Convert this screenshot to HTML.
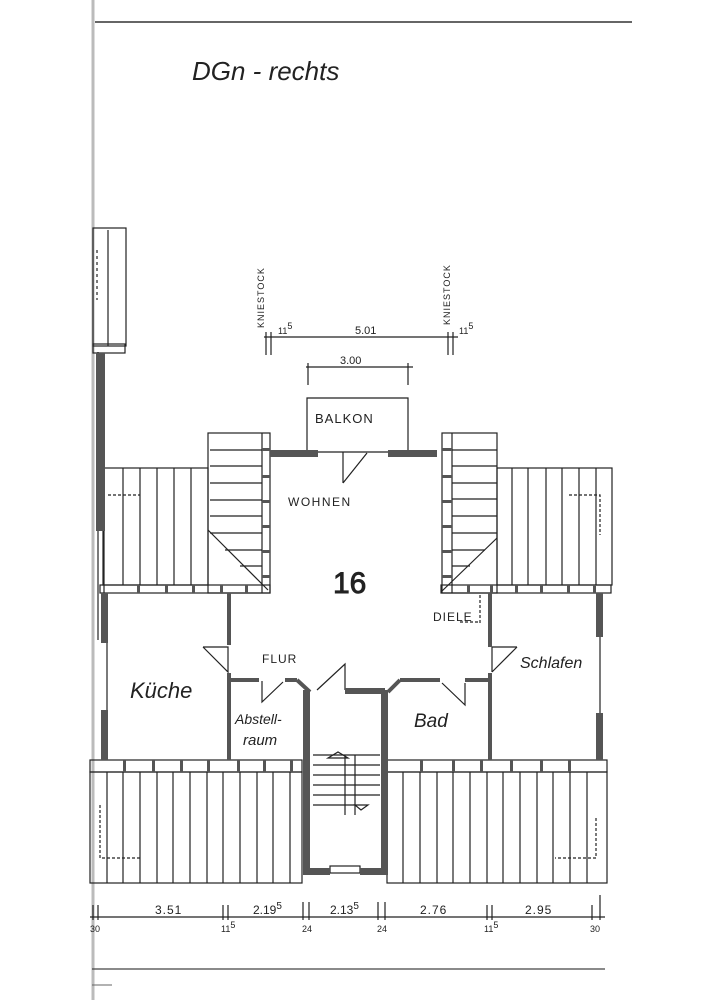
<!DOCTYPE html>
<html><head><meta charset="utf-8"><style>
html,body{margin:0;padding:0;background:#fff;}
svg{display:block;}
text{font-family:"Liberation Sans",sans-serif;fill:#222;}
</style></head><body>
<svg width="707" height="1000" viewBox="0 0 707 1000" xmlns="http://www.w3.org/2000/svg">
<rect width="707" height="1000" fill="#fff"/>
<line x1="93" y1="0" x2="93" y2="1000" stroke="#bbb" stroke-width="3"/>
<line x1="95" y1="22" x2="632" y2="22" stroke="#333" stroke-width="1.5"/>
<line x1="92" y1="969" x2="605" y2="969" stroke="#444" stroke-width="1.2"/>
<line x1="92" y1="985" x2="112" y2="985" stroke="#666" stroke-width="1"/>
<text x="192" y="80" font-family="Liberation Serif,serif" font-style="italic" font-size="26" fill="#333">DGn - rechts</text>

<g stroke="#222" stroke-width="1.2" fill="none">
<rect x="93" y="228" width="33" height="118"/>
<line x1="108" y1="230" x2="108" y2="346"/>
<rect x="93" y="344" width="32" height="9"/>
<line x1="97" y1="250" x2="97" y2="300" stroke-dasharray="3,3"/>
<line x1="98" y1="352" x2="98" y2="640"/>
<line x1="104" y1="530" x2="104" y2="640"/>

<line x1="264" y1="337" x2="458" y2="337"/>
<line x1="266" y1="332" x2="266" y2="355"/><line x1="271" y1="332" x2="271" y2="355"/>
<line x1="448" y1="332" x2="448" y2="355"/><line x1="453" y1="332" x2="453" y2="355"/>
<line x1="306" y1="367" x2="413" y2="367"/>
<line x1="308" y1="363" x2="308" y2="385"/><line x1="408" y1="363" x2="408" y2="385"/>

<polyline points="307,450 307,398 408,398 408,450"/>
<line x1="318" y1="452" x2="388" y2="452"/>
<line x1="343" y1="452" x2="343" y2="483"/><line x1="343" y1="483" x2="367" y2="453"/>

<rect x="208" y="433" width="62" height="160"/>
<line x1="262" y1="433" x2="262" y2="593"/>
<line x1="210" y1="450" x2="262" y2="450"/><line x1="210" y1="466" x2="262" y2="466"/>
<line x1="210" y1="483" x2="262" y2="483"/><line x1="210" y1="500" x2="262" y2="500"/>
<line x1="210" y1="516" x2="262" y2="516"/><line x1="210" y1="533" x2="262" y2="533"/>
<line x1="225" y1="550" x2="262" y2="550"/><line x1="240" y1="566" x2="262" y2="566"/>
<line x1="208" y1="530" x2="268" y2="590"/>
<rect x="442" y="433" width="55" height="160"/>
<line x1="452" y1="433" x2="452" y2="593"/>
<line x1="452" y1="450" x2="497" y2="450"/><line x1="452" y1="466" x2="497" y2="466"/>
<line x1="452" y1="483" x2="497" y2="483"/><line x1="452" y1="499" x2="497" y2="499"/>
<line x1="452" y1="516" x2="497" y2="516"/><line x1="452" y1="533" x2="497" y2="533"/>
<line x1="452" y1="550" x2="485" y2="550"/><line x1="452" y1="566" x2="470" y2="566"/>
<line x1="497" y1="538" x2="441" y2="592"/>

<rect x="103" y="468" width="105" height="117"/>
<line x1="123" y1="468" x2="123" y2="585"/><line x1="140" y1="468" x2="140" y2="585"/>
<line x1="157" y1="468" x2="157" y2="585"/><line x1="174" y1="468" x2="174" y2="585"/>
<line x1="191" y1="468" x2="191" y2="585"/>
<polyline points="108,495 140,495" stroke-dasharray="3,2"/>
<rect x="497" y="468" width="115" height="117"/>
<line x1="512" y1="468" x2="512" y2="585"/><line x1="528" y1="468" x2="528" y2="585"/>
<line x1="546" y1="468" x2="546" y2="585"/><line x1="562" y1="468" x2="562" y2="585"/>
<line x1="579" y1="468" x2="579" y2="585"/><line x1="596" y1="468" x2="596" y2="585"/>
<polyline points="569,495 600,495 600,535" stroke-dasharray="3,2"/>

<rect x="100" y="585" width="170" height="8"/>
<rect x="441" y="585" width="170" height="8"/>

<line x1="107" y1="593" x2="107" y2="760"/>
<line x1="600" y1="593" x2="600" y2="760"/>
<polyline points="203,647 228,647 228,672 203,647"/>
<polyline points="517,647 492,647 492,672"/><line x1="492" y1="672" x2="517" y2="647"/>
<polyline points="262,681 262,702 283,682"/>
<polyline points="317,690 345,664 345,690"/>
<polyline points="465,683 465,705 442,683"/>
<line x1="480" y1="595" x2="480" y2="625" stroke-dasharray="3,2"/>
<line x1="460" y1="622" x2="480" y2="622" stroke-dasharray="3,2"/>

<rect x="90" y="760" width="212" height="12"/>
<rect x="387" y="760" width="220" height="12"/>
<rect x="90" y="772" width="212" height="111"/>
<rect x="387" y="772" width="220" height="111"/>
<line x1="107" y1="772" x2="107" y2="883"/><line x1="123" y1="772" x2="123" y2="883"/>
<line x1="140" y1="772" x2="140" y2="883"/><line x1="157" y1="772" x2="157" y2="883"/>
<line x1="173" y1="772" x2="173" y2="883"/><line x1="190" y1="772" x2="190" y2="883"/>
<line x1="207" y1="772" x2="207" y2="883"/><line x1="223" y1="772" x2="223" y2="883"/>
<line x1="240" y1="772" x2="240" y2="883"/><line x1="257" y1="772" x2="257" y2="883"/>
<line x1="273" y1="772" x2="273" y2="883"/><line x1="290" y1="772" x2="290" y2="883"/>
<line x1="403" y1="772" x2="403" y2="883"/><line x1="420" y1="772" x2="420" y2="883"/>
<line x1="437" y1="772" x2="437" y2="883"/><line x1="453" y1="772" x2="453" y2="883"/>
<line x1="470" y1="772" x2="470" y2="883"/><line x1="487" y1="772" x2="487" y2="883"/>
<line x1="503" y1="772" x2="503" y2="883"/><line x1="520" y1="772" x2="520" y2="883"/>
<line x1="537" y1="772" x2="537" y2="883"/><line x1="553" y1="772" x2="553" y2="883"/>
<line x1="570" y1="772" x2="570" y2="883"/><line x1="587" y1="772" x2="587" y2="883"/>
<polyline points="100,805 100,858 140,858" stroke-dasharray="3,2"/>
<polyline points="596,818 596,858 555,858" stroke-dasharray="3,2"/>

<line x1="313" y1="755" x2="380" y2="755"/>
<line x1="313" y1="765" x2="380" y2="765"/><line x1="313" y1="775" x2="380" y2="775"/>
<line x1="313" y1="785" x2="380" y2="785"/><line x1="313" y1="795" x2="380" y2="795"/>
<line x1="313" y1="805" x2="355" y2="805"/>
<line x1="345" y1="755" x2="345" y2="815"/><line x1="355" y1="755" x2="355" y2="815"/>
<polygon points="328,758 338,752 348,758"/>
<polygon points="355,805 368,805 361,810"/>
<rect x="330" y="866" width="30" height="7"/>

<line x1="90" y1="917" x2="605" y2="917"/>
<line x1="93" y1="905" x2="93" y2="920"/><line x1="98" y1="905" x2="98" y2="920"/>
<line x1="223" y1="905" x2="223" y2="920"/><line x1="228" y1="905" x2="228" y2="920"/>
<line x1="303" y1="902" x2="303" y2="920"/><line x1="309" y1="902" x2="309" y2="920"/>
<line x1="378" y1="902" x2="378" y2="920"/><line x1="385" y1="902" x2="385" y2="920"/>
<line x1="487" y1="905" x2="487" y2="920"/><line x1="492" y1="905" x2="492" y2="920"/>
<line x1="592" y1="905" x2="592" y2="920"/><line x1="600" y1="895" x2="600" y2="920"/>
</g>

<!-- blocks in bands and dormer wall columns -->
<g fill="#555">
<rect x="137" y="585" width="3" height="8"/><rect x="165" y="585" width="3" height="8"/>
<rect x="192" y="585" width="3" height="8"/><rect x="220" y="585" width="3" height="8"/>
<rect x="245" y="585" width="3" height="8"/>
<rect x="467" y="585" width="3" height="8"/><rect x="490" y="585" width="3" height="8"/>
<rect x="515" y="585" width="3" height="8"/><rect x="540" y="585" width="3" height="8"/>
<rect x="567" y="585" width="3" height="8"/><rect x="593" y="585" width="3" height="8"/>
<rect x="123" y="760" width="3" height="12"/><rect x="152" y="760" width="3" height="12"/>
<rect x="180" y="760" width="3" height="12"/><rect x="207" y="760" width="3" height="12"/>
<rect x="237" y="760" width="3" height="12"/><rect x="263" y="760" width="3" height="12"/>
<rect x="290" y="760" width="3" height="12"/>
<rect x="420" y="760" width="3" height="12"/><rect x="452" y="760" width="3" height="12"/>
<rect x="480" y="760" width="3" height="12"/><rect x="510" y="760" width="3" height="12"/>
<rect x="540" y="760" width="3" height="12"/><rect x="568" y="760" width="3" height="12"/>
<rect x="262" y="448" width="8" height="3"/><rect x="262" y="475" width="8" height="3"/>
<rect x="262" y="500" width="8" height="3"/><rect x="262" y="525" width="8" height="3"/>
<rect x="262" y="550" width="8" height="3"/><rect x="262" y="575" width="8" height="3"/>
<rect x="442" y="448" width="10" height="3"/><rect x="442" y="475" width="10" height="3"/>
<rect x="442" y="500" width="10" height="3"/><rect x="442" y="525" width="10" height="3"/>
<rect x="442" y="550" width="10" height="3"/><rect x="442" y="575" width="10" height="3"/>
</g>

<g fill="#555">
<rect x="96" y="353" width="9" height="178"/>
<rect x="270" y="450" width="48" height="7"/>
<rect x="388" y="450" width="49" height="7"/>
<rect x="101" y="593" width="7" height="50"/>
<rect x="101" y="710" width="7" height="50"/>
<rect x="227" y="593" width="4" height="52"/>
<rect x="227" y="673" width="4" height="87"/>
<rect x="488" y="593" width="4" height="54"/>
<rect x="488" y="673" width="4" height="87"/>
<rect x="596" y="593" width="7" height="44"/>
<rect x="596" y="713" width="7" height="47"/>
<rect x="231" y="678" width="28" height="4"/>
<rect x="285" y="678" width="12" height="4"/>
<rect x="303" y="690" width="7" height="185"/>
<rect x="381" y="690" width="7" height="185"/>
<rect x="310" y="868" width="20" height="7"/>
<rect x="360" y="868" width="22" height="7"/>
<rect x="345" y="688" width="40" height="6"/>
<rect x="400" y="678" width="40" height="4"/>
<rect x="465" y="678" width="25" height="4"/>
</g>
<g stroke="#555" stroke-width="4" fill="none">
<polyline points="297,680 310,692"/>
<polyline points="400,680 388,692"/>
</g>

<text x="315" y="423" font-size="13" letter-spacing="1">BALKON</text>
<text x="288" y="506" font-size="12" letter-spacing="1.5">WOHNEN</text>
<text x="333" y="593" font-size="30" fill="#fff" stroke="#222" stroke-width="0.9">16</text>
<text x="433" y="621" font-size="12" letter-spacing="1">DIELE</text>
<text x="262" y="663" font-size="12" letter-spacing="1">FLUR</text>
<text x="130" y="698" font-family="Liberation Serif,serif" font-style="italic" font-size="22">Küche</text>
<text x="235" y="724" font-family="Liberation Serif,serif" font-style="italic" font-size="14">Abstell-</text>
<text x="243" y="745" font-family="Liberation Serif,serif" font-style="italic" font-size="15">raum</text>
<text x="414" y="727" font-family="Liberation Serif,serif" font-style="italic" font-size="19">Bad</text>
<text x="520" y="668" font-family="Liberation Serif,serif" font-style="italic" font-size="16">Schlafen</text>
<text x="355" y="334" font-size="11">5.01</text>
<text x="340" y="364" font-size="11">3.00</text>
<text x="278" y="334" font-size="9">11<tspan dy="-5" font-size="9">5</tspan></text>
<text x="459" y="334" font-size="9">11<tspan dy="-5" font-size="9">5</tspan></text>
<text transform="translate(264,328) rotate(-90)" font-size="9" letter-spacing="1">KNIESTOCK</text>
<text transform="translate(450,325) rotate(-90)" font-size="9" letter-spacing="1">KNIESTOCK</text>
<text x="155" y="914" font-size="12" letter-spacing="1">3.51</text>
<text x="253" y="914" font-size="12">2.19<tspan dy="-5" font-size="10">5</tspan></text>
<text x="330" y="914" font-size="12">2.13<tspan dy="-5" font-size="10">5</tspan></text>
<text x="420" y="914" font-size="12" letter-spacing="1">2.76</text>
<text x="525" y="914" font-size="12" letter-spacing="1">2.95</text>
<text x="90" y="932" font-size="9">30</text>
<text x="221" y="932" font-size="9">11<tspan dy="-4">5</tspan></text>
<text x="302" y="932" font-size="9">24</text>
<text x="377" y="932" font-size="9">24</text>
<text x="484" y="932" font-size="9">11<tspan dy="-4">5</tspan></text>
<text x="590" y="932" font-size="9">30</text>
</svg>
</body></html>
